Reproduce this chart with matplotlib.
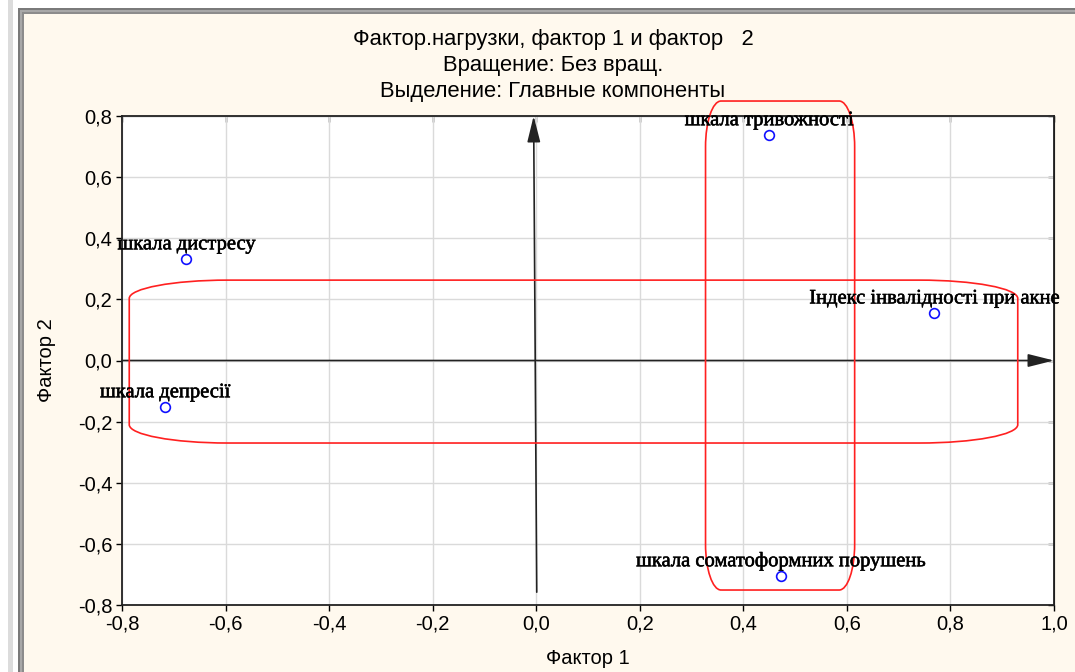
import matplotlib.pyplot as plt
import matplotlib.patheffects as pe
from matplotlib.path import Path
from matplotlib.patches import PathPatch, Rectangle
import numpy as np

# loadings
labels = ["шкала тривожності", "Індекс інвалідності при акне", "шкала дистресу",
          "шкала депресії", "шкала соматоформних порушень"]
factor1 = [0.449, 0.768, -0.676, -0.717, 0.472]
factor2 = [0.738, 0.155, 0.332, -0.152, -0.705]

ticks = [-0.8, -0.6, -0.4, -0.2, 0.0, 0.2, 0.4, 0.6, 0.8, 1.0]
yticks = [-0.8, -0.6, -0.4, -0.2, 0.0, 0.2, 0.4, 0.6, 0.8]

title_lines = ["Фактор.нагрузки, фактор 1 и фактор   2",
               "Вращение: Без вращ.",
               "Выделение: Главные компоненты"]

# hand-drawn groupings: (x0, y0, x1, y1, rx, ry)
groups = [(-0.786, -0.270, 0.930, 0.263, 0.19, 0.06),
          (0.327, -0.751, 0.615, 0.849, 0.03, 0.15)]

BG = '#FFF9EE'


def rounded_rect(x0, y0, x1, y1, rx, ry):
    k = 0.5523
    verts = [(x0 + rx, y0), (x1 - rx, y0),
             (x1 - rx + k * rx, y0), (x1, y0 + ry - k * ry), (x1, y0 + ry),
             (x1, y1 - ry),
             (x1, y1 - ry + k * ry), (x1 - rx + k * rx, y1), (x1 - rx, y1),
             (x0 + rx, y1),
             (x0 + rx - k * rx, y1), (x0, y1 - ry + k * ry), (x0, y1 - ry),
             (x0, y0 + ry),
             (x0, y0 + ry - k * ry), (x0 + rx - k * rx, y0), (x0 + rx, y0)]
    codes = [Path.MOVETO, Path.LINETO,
             Path.CURVE4, Path.CURVE4, Path.CURVE4,
             Path.LINETO,
             Path.CURVE4, Path.CURVE4, Path.CURVE4,
             Path.LINETO,
             Path.CURVE4, Path.CURVE4, Path.CURVE4,
             Path.LINETO,
             Path.CURVE4, Path.CURVE4, Path.CURVE4]
    return Path(verts, codes)


fig = plt.figure(figsize=(10.75, 6.72), dpi=100)
fig.patch.set_facecolor('white')

W, H = 1075.0, 672.0
# window frame look
frame = [((8, 0), 5, H, '#dcdcdc'),
         ((18, 0), W, H - 8, '#7a7a7a'),
         ((20, 0), W, H - 10, '#a8a8a8'),
         ((22, 0), W, H - 12, '#8c8c8c'),
         ((24, 0), W, H - 14, BG)]
for (x0, y0), w, h, c in frame:
    fig.patches.append(Rectangle((x0 / W, y0 / H), w / W, h / H, transform=fig.transFigure,
                                 facecolor=c, edgecolor='none', zorder=-10))

ax = fig.add_axes([122 / W, 67 / H, 932 / W, 489 / H])
ax.set_facecolor('white')
ax.set_xlim(-0.8, 1.0)
ax.set_ylim(-0.8, 0.8)
ax.set_xticks(ticks)
ax.set_yticks(yticks)
ax.set_xticklabels([f"{t:.1f}".replace('.', ',') for t in ticks], fontsize=14.5,
                   family='Liberation Sans')
ax.set_yticklabels([f"{t:.1f}".replace('.', ',') for t in yticks], fontsize=14.5,
                   family='Liberation Sans')
ax.tick_params(direction='out', length=4, width=1, pad=3)
ax.grid(True, color='#dadada', lw=1)
ax.set_axisbelow(True)
for s in ax.spines.values():
    s.set_linewidth(1.3)
    s.set_color('#222222')

top = ax.secondary_xaxis('top')
top.set_xticks(ticks)
top.set_xticklabels([])
top.tick_params(direction='in', length=4, width=1)
right = ax.secondary_yaxis('right')
right.set_yticks(yticks)
right.set_yticklabels([])
right.tick_params(direction='in', length=4, width=1)

ax.set_xlabel("Фактор 1", fontsize=14.5, family='Liberation Sans', labelpad=11)
ax.set_ylabel("Фактор 2", fontsize=14.5, family='Liberation Sans', labelpad=16)

# arrows
astyle = '-|>,head_length=1.6,head_width=0.4'
ax.annotate("", xy=(1.0, 0.0), xytext=(-0.8, 0.0),
            arrowprops=dict(arrowstyle=astyle, color='#222222', lw=1.2,
                            shrinkA=0, shrinkB=0))
ax.annotate("", xy=(-0.005, 0.8), xytext=(0.001, -0.758),
            arrowprops=dict(arrowstyle=astyle, color='#222222', lw=1.2,
                            shrinkA=0, shrinkB=0))

for g in groups:
    ax.add_patch(PathPatch(rounded_rect(*g), facecolor='none', edgecolor='#ff2020',
                           lw=1.2, clip_on=False, zorder=3))

ax.plot(factor1, factor2, 'o', mfc='none', mec='#1010ff', ms=7, mew=1.2, zorder=4)
for x, y, lab in zip(factor1, factor2, labels):
    ax.annotate(lab, (x, y), xytext=(0, 7), textcoords='offset points',
                ha='center', va='baseline', fontsize=14.8, family='Liberation Serif',
                color='black', zorder=5, annotation_clip=False,
                path_effects=[pe.withStroke(linewidth=0.4, foreground='black')])

for i, line in enumerate(title_lines):
    fig.text(553 / W, 1 - (39 + 26.5 * i) / H, line, ha='center', va='center',
             fontsize=15.8, family='Liberation Sans')

fig.savefig('out.png', dpi=100, facecolor=fig.get_facecolor())
